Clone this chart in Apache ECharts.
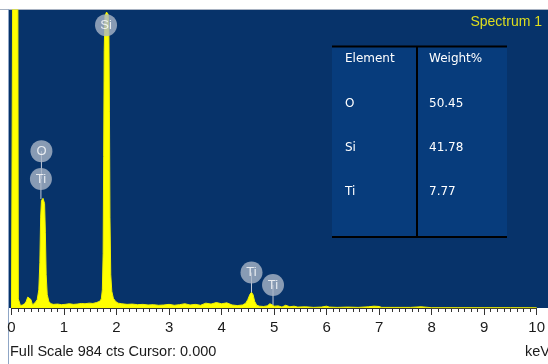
<!DOCTYPE html>
<html>
<head>
<meta charset="utf-8">
<script src="https://cdn.jsdelivr.net/npm/echarts@6/dist/echarts.min.js"></script>
<style>
  html, body { margin: 0; padding: 0; background: #ffffff; }
  #chart { width: 548px; height: 364px; }
</style>
</head>
<body>
<div id="chart"></div>
<script>
// EDS spectrum: energy (keV) vs counts
const fullScale = 984;
const energyTicks = [0, 1, 2, 3, 4, 5, 6, 7, 8, 9, 10];

const spectrum = [
  [0.00, 0], [0.02, 0], [0.025, 1200], [0.12, 1200], [0.13, 30],
  [0.17, 8], [0.21, 10], [0.25, 14], [0.28, 22], [0.31, 36], [0.34, 40], [0.37, 28], [0.40, 10],
  [0.43, 14], [0.46, 20], [0.49, 28],
  [0.52, 60], [0.54, 150], [0.555, 300], [0.57, 355], [0.60, 362], [0.63, 345], [0.645, 250],
  [0.66, 110], [0.68, 45], [0.71, 22],
  [0.75, 14], [0.80, 12], [0.88, 13], [0.95, 11], [1.02, 12], [1.10, 14], [1.18, 12], [1.25, 13],
  [1.33, 15], [1.40, 14], [1.48, 16], [1.55, 15], [1.62, 18], [1.68, 22],
  [1.71, 30], [1.73, 60], [1.745, 180], [1.755, 500], [1.765, 850], [1.78, 965], [1.81, 977],
  [1.84, 970], [1.855, 900], [1.865, 650], [1.875, 300], [1.89, 110], [1.91, 55], [1.94, 32],
  [1.98, 22], [2.03, 16],
  [2.10, 14], [2.20, 12], [2.30, 13], [2.40, 11], [2.50, 12], [2.60, 10], [2.70, 11], [2.80, 9],
  [2.90, 10], [3.00, 12], [3.10, 9], [3.20, 11], [3.30, 14], [3.40, 10], [3.50, 12], [3.60, 9],
  [3.70, 16], [3.80, 13], [3.90, 18], [4.00, 14], [4.10, 17], [4.20, 10], [4.30, 8], [4.40, 10],
  [4.46, 16], [4.50, 28], [4.54, 45], [4.57, 52], [4.60, 44], [4.63, 22], [4.67, 9], [4.72, 6],
  [4.80, 5], [4.87, 7], [4.92, 14], [4.96, 11], [5.00, 6], [5.08, 7], [5.15, 3], [5.22, 9],
  [5.30, 4], [5.38, 6], [5.45, 3], [5.60, 4], [5.75, 2], [5.90, 3], [6.00, 6], [6.05, 3],
  [6.20, 2], [6.40, 3], [6.60, 2], [6.80, 4], [6.90, 6], [7.00, 5], [7.05, 2], [7.30, 2],
  [7.60, 2], [7.80, 4], [8.00, 1], [8.50, 1], [9.00, 1], [9.50, 1], [10.0, 1]
];

// Peak identification markers
const peakNames = ['Si', 'O', 'Ti', 'Ti', 'Ti'];
const peakLabelEnergy = [1.80, 0.57, 0.56, 4.57, 4.98];
const peakLabelCounts = [934, 518, 426, 117, 76];
const stemTopCounts = [934, 518, 426, 117, 76];
const stemBottomCounts = [960, 426, 360, 52, 10];

// Quantification table
const elements = ['O', 'Si', 'Ti'];
const weightPct = ['50.45', '41.78', '7.77'];

const chart = echarts.init(document.getElementById('chart'), null, { renderer: 'canvas' });

const stemSeries = peakLabelEnergy.map((e, i) => ({
  type: 'line',
  data: [[e, stemTopCounts[i]], [e, stemBottomCounts[i]]],
  symbol: 'none',
  lineStyle: { color: '#c3cbd8', width: 1 },
  z: 3,
  silent: true
}));

const tableX = 332, tableY = 46, tableW = 175, tableH = 191, colX = 417;
const rowY = [59, 104, 148, 192];
const cellFont = { fontFamily: 'DejaVu Sans', fontSize: 12, fill: '#ffffff' };

const tableGraphics = [
  { type: 'rect', z: 50, shape: { x: tableX, y: tableY, width: tableW, height: tableH }, style: { fill: '#073c7c' } },
  { type: 'line', z: 51, shape: { x1: tableX, y1: tableY + 0.5, x2: tableX + tableW, y2: tableY + 0.5 }, style: { stroke: '#000000', lineWidth: 2 } },
  { type: 'line', z: 51, shape: { x1: tableX, y1: tableY + tableH, x2: tableX + tableW, y2: tableY + tableH }, style: { stroke: '#000000', lineWidth: 2 } },
  { type: 'line', z: 51, shape: { x1: colX, y1: tableY, x2: colX, y2: tableY + tableH }, style: { stroke: '#000000', lineWidth: 2 } },
  { type: 'text', z: 52, x: 345, y: rowY[0], style: Object.assign({ text: 'Element', verticalAlign: 'middle' }, cellFont) },
  { type: 'text', z: 52, x: 429, y: rowY[0], style: Object.assign({ text: 'Weight%', verticalAlign: 'middle' }, cellFont) }
];
elements.forEach((el, i) => {
  tableGraphics.push({ type: 'text', z: 52, x: 345, y: rowY[i + 1], style: Object.assign({ text: el, verticalAlign: 'middle' }, cellFont) });
  tableGraphics.push({ type: 'text', z: 52, x: 429, y: rowY[i + 1], style: Object.assign({ text: weightPct[i], verticalAlign: 'middle' }, cellFont) });
});

const option = {
  animation: false,
  backgroundColor: '#ffffff',
  grid: { left: 11.5, right: 5.5, top: 10, bottom: 56, containLabel: false },
  xAxis: {
    type: 'value',
    min: energyTicks[0],
    max: energyTicks[energyTicks.length - 1],
    interval: 1,
    axisLine: { show: true, lineStyle: { color: '#333333', width: 1 } },
    axisTick: { show: true, length: 7, lineStyle: { color: '#333333' } },
    minorTick: { show: true, splitNumber: 8, length: 4, lineStyle: { color: '#333333' } },
    splitLine: { show: false },
    axisLabel: { color: '#1a1a1a', fontFamily: 'Liberation Sans', fontSize: 15, margin: 12 }
  },
  yAxis: {
    type: 'value',
    min: 0,
    max: fullScale,
    show: false
  },
  graphic: [
    { type: 'rect', z: -10, shape: { x: 9, y: 10, width: 539, height: 298 }, style: { fill: '#07336a' } },
    { type: 'line', z: -9, shape: { x1: 0, y1: 9.5, x2: 548, y2: 9.5 }, style: { stroke: '#a8b2c2', lineWidth: 1 } },
    { type: 'line', z: -9, shape: { x1: 8.5, y1: 9, x2: 8.5, y2: 364 }, style: { stroke: '#8fa6c6', lineWidth: 1 } },
    { type: 'text', z: 5, x: 542, y: 22, style: { text: 'Spectrum 1', fill: '#dede1e', fontFamily: 'Liberation Sans', fontSize: 14, align: 'right', verticalAlign: 'middle' } },
    { type: 'text', z: 5, x: 10, y: 352, style: { text: 'Full Scale ' + fullScale + ' cts Cursor: 0.000', fill: '#1a1a1a', fontFamily: 'Liberation Sans', fontSize: 14.5, verticalAlign: 'middle' } },
    { type: 'text', z: 5, x: 525, y: 352, style: { text: 'keV', fill: '#1a1a1a', fontFamily: 'Liberation Sans', fontSize: 14.5, verticalAlign: 'middle' } }
  ].concat(tableGraphics),
  series: [
    {
      type: 'line',
      data: spectrum,
      symbol: 'none',
      clip: true,
      lineStyle: { color: '#f0f000', width: 1 },
      areaStyle: { color: '#ffff00', opacity: 1 },
      z: 2
    }
  ].concat(stemSeries).concat([
    {
      type: 'scatter',
      data: peakLabelEnergy.map((e, i) => ({ value: [e, peakLabelCounts[i]], name: peakNames[i] })),
      symbol: 'circle',
      symbolSize: 22,
      itemStyle: { color: '#a9b5c7' },
      label: {
        show: true,
        position: 'inside',
        formatter: p => p.name,
        color: '#ffffff',
        fontFamily: 'Liberation Sans',
        fontSize: 13
      },
      z: 4
    }
  ])
};

chart.setOption(option);
</script>
</body>
</html>
